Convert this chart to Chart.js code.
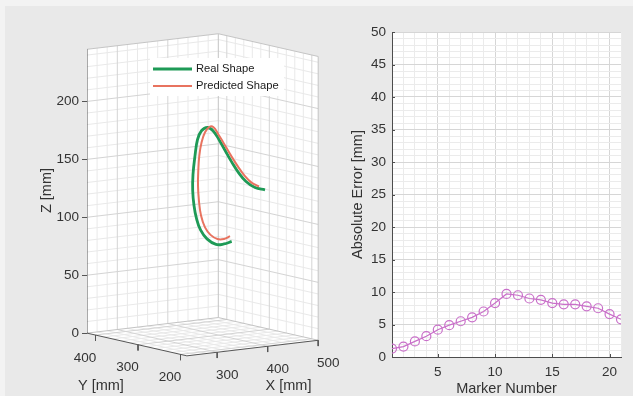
<!DOCTYPE html>
<html>
<head>
<meta charset="utf-8">
<script src="https://cdn.jsdelivr.net/npm/chart.js@4.4.1/dist/chart.umd.min.js"></script>
<style>
  html, body { margin: 0; padding: 0; background: #f3f3f3; overflow: hidden; }
  #page { position: absolute; left: 5px; top: 6px; width: 628px; height: 390px; background: #e9e9e9; }
  #shape { position: absolute; left: 34px; top: 0; }
  #error { position: absolute; left: 340px; top: 0; }
</style>
</head>
<body>
<div id="page"></div>
<canvas id="shape" width="306" height="396"></canvas>
<canvas id="error" width="293" height="396"></canvas>
<script>
// ---- left plot: 3D shape ----
const xLim = [240, 500];
const yLim = [185, 420];
const zLim = [0, 245];
const xTicks = [300, 400, 500];
const yTicks = [200, 300, 400];
const zTicks = [0, 50, 100, 150, 200];

const realX = [425.5, 410.3, 394.5, 376.6, 363.8, 355.8, 350.9, 348.3, 348.9, 352.9, 357.8, 365.7, 377.6, 388.5, 400.4, 412.3, 425.1, 439.0, 453.9, 471.7, 491.5];
const realY = [300, 300, 300, 300, 300, 300, 300, 300, 300, 300, 300, 300, 300, 300, 300, 300, 300, 300, 300, 300, 300];
const realZ = [79.6, 78.2, 78.6, 84.3, 92.7, 103.0, 114.5, 127.5, 141.2, 157.4, 170.9, 178.2, 180.4, 177.1, 168.7, 159.0, 148.5, 138.3, 129.8, 123.7, 120.7];

const predX = [422.2, 410.3, 397.4, 383.6, 372.7, 364.8, 360.8, 358.8, 359.4, 361.4, 365.7, 372.7, 381.6, 389.5, 398.4, 410.3, 424.2, 438.0, 450.9, 464.8, 479.6];
const predY = [300, 300, 300, 300, 300, 300, 300, 300, 300, 300, 300, 300, 300, 300, 300, 300, 300, 300, 300, 300, 300];
const predZ = [84.3, 82.5, 83.1, 87.4, 94.4, 105.1, 117.4, 131.3, 144.2, 157.0, 167.9, 176.6, 180.8, 180.0, 174.0, 164.7, 153.7, 143.5, 135.1, 128.3, 124.2];

// ---- right plot: error per marker ----
const markerNo = [1, 2, 3, 4, 5, 6, 7, 8, 9, 10, 11, 12, 13, 14, 15, 16, 17, 18, 19, 20, 21];
const absError = [1.3, 1.6, 2.4, 3.2, 4.2, 4.9, 5.5, 6.1, 7.0, 8.3, 9.7, 9.5, 9.0, 8.8, 8.3, 8.1, 8.1, 7.8, 7.5, 6.6, 5.8];
const errXTicks = [5, 10, 15, 20];
const errYTicks = [0, 5, 10, 15, 20, 25, 30, 35, 40, 45, 50];

const FONT = "'Liberation Sans', Arial, Helvetica, sans-serif";
const TEXT = '#333333';
const TICK_SIZE = 13.5, TITLE_SIZE = 14.5;
Chart.defaults.font.family = FONT;
Chart.defaults.color = TEXT;

// orthographic view: x scale in screen px, y scale in mm of Z
const PX_PER_MM = 1.162;
function project(x, y, z) {
  const dx = x - xLim[0], dy = yLim[1] - y;
  return {
    x: 0.505 * dx + 0.425 * dy,
    y: z + (0.06 * dx - 0.097 * dy) / PX_PER_MM
  };
}

function steps(a, b, step) {
  const out = [];
  for (let t = Math.ceil(a / step) * step; t <= b + 1e-9; t += step) out.push(t);
  return out;
}

function segments(list) {
  const pts = [];
  list.forEach(([p, q]) => {
    pts.push(project(...p), project(...q), { x: null, y: null });
  });
  return pts;
}

function gridLines(xs, ys, zs) {
  const [x0, x1] = xLim, [y0, y1] = yLim, [z0, z1] = zLim;
  const s = [];
  xs.forEach(x => { s.push([[x, y1, z0], [x, y1, z1]]); s.push([[x, y0, z0], [x, y1, z0]]); });
  ys.forEach(y => { s.push([[x1, y, z0], [x1, y, z1]]); s.push([[x0, y, z0], [x1, y, z0]]); });
  zs.forEach(z => { s.push([[x0, y1, z], [x1, y1, z]]); s.push([[x1, y0, z], [x1, y1, z]]); });
  return segments(s);
}

const inside = (v, lim, majors) => v > lim[0] && v < lim[1] && !majors.includes(v);
const minorPts = gridLines(
  steps(xLim[0], xLim[1], 20).filter(v => inside(v, xLim, xTicks)),
  steps(yLim[0], yLim[1], 20).filter(v => inside(v, yLim, yTicks)),
  steps(zLim[0], zLim[1], 10).filter(v => inside(v, zLim, zTicks))
);
const majorPts = gridLines(
  xTicks.filter(v => v > xLim[0] && v < xLim[1]),
  yTicks.filter(v => v > yLim[0] && v < yLim[1]),
  zTicks.filter(v => v > zLim[0] && v < zLim[1])
);

const [X0, X1] = xLim, [Y0, Y1] = yLim, [Z0, Z1] = zLim;
const boxPts = segments([
  [[X1, Y1, Z0], [X1, Y1, Z1]],
  [[X1, Y0, Z0], [X1, Y0, Z1]],
  [[X0, Y1, Z1], [X1, Y1, Z1]],
  [[X1, Y1, Z1], [X1, Y0, Z1]],
  [[X1, Y0, Z0], [X1, Y1, Z0]],
  [[X1, Y1, Z0], [X0, Y1, Z0]]
]);
const axisPts = segments([
  [[X0, Y1, Z0], [X0, Y1, Z1]],
  [[X0, Y1, Z0], [X0, Y0, Z0]],
  [[X0, Y0, Z0], [X1, Y0, Z0]]
]);
const tickPts = segments([
  ...yTicks.map(t => [[X0, t, 0], [X0, t, -5]]),
  ...xTicks.map(t => [[t, Y0, 0], [t, Y0, -5]])
]);

const realPts = realX.map((x, i) => project(x, realY[i], realZ[i]));
const predPts = predX.map((x, i) => project(x, predY[i], predZ[i]));

function gridSet(data, color, order) {
  return { data, borderColor: color, borderWidth: 1, showLine: true, spanGaps: false,
           pointRadius: 0, order, label: '' };
}

const AREA_TOP = 10, AREA_BOTTOM = 370, ZERO_Y = 333;

const boxFill = {
  id: 'boxFill',
  beforeDatasetsDraw(chart) {
    const { ctx, scales: { x, y } } = chart;
    const corners = [[X0, Y1, Z0], [X0, Y0, Z0], [X1, Y0, Z0], [X1, Y0, Z1], [X1, Y1, Z1], [X0, Y1, Z1]]
      .map(c => project(...c));
    ctx.save();
    ctx.fillStyle = '#ffffff';
    ctx.beginPath();
    corners.forEach((p, i) => {
      const px = x.getPixelForValue(p.x), py = y.getPixelForValue(p.y);
      if (i === 0) ctx.moveTo(px, py); else ctx.lineTo(px, py);
    });
    ctx.closePath();
    ctx.fill();
    ctx.restore();
  }
};

const floorLabels = {
  id: 'floorLabels',
  afterDraw(chart) {
    const { ctx, scales: { x, y } } = chart;
    const pix = p => ({ x: x.getPixelForValue(p.x), y: y.getPixelForValue(p.y) });
    ctx.save();
    ctx.fillStyle = TEXT;
    ctx.textAlign = 'center';
    ctx.textBaseline = 'middle';
    ctx.font = TICK_SIZE + 'px ' + FONT;
    yTicks.forEach(t => {
      const p = pix(project(X0, t, 0));
      ctx.fillText(String(t), p.x - 10.5, p.y + 23);
    });
    xTicks.forEach(t => {
      const p = pix(project(t, Y0, 0));
      ctx.fillText(String(t), p.x + 10, p.y + 23);
    });
    ctx.font = TITLE_SIZE + 'px ' + FONT;
    const ym = pix(project(X0, (Y0 + Y1) / 2, 0));
    ctx.fillText('Y [mm]', ym.x - 36, ym.y + 41.5);
    const xm = pix(project((X0 + X1) / 2, Y0, 0));
    ctx.fillText('X [mm]', xm.x + 36, xm.y + 38);
    ctx.restore();
  }
};

const shapeLegend = {
  id: 'shapeLegend',
  afterDatasetsDraw(chart) {
    const { ctx, chartArea } = chart;
    const left = chartArea.left + 63, top = 58;
    ctx.save();
    ctx.fillStyle = '#ffffff';
    ctx.fillRect(left, top, 134, 38);
    ctx.font = '11.2px ' + FONT;
    ctx.textBaseline = 'middle';
    const items = chart.data.datasets.filter(d => d.label);
    items.forEach((d, i) => {
      const cy = top + 11 + i * 17;
      ctx.strokeStyle = d.borderColor;
      ctx.lineWidth = d.borderWidth;
      ctx.beginPath();
      ctx.moveTo(left + 3, cy);
      ctx.lineTo(left + 42, cy);
      ctx.stroke();
      ctx.fillStyle = '#1a1a1a';
      ctx.fillText(d.label, left + 46, cy);
    });
    ctx.restore();
  }
};

new Chart(document.getElementById('shape'), {
  type: 'scatter',
  data: {
    datasets: [
      gridSet(minorPts, '#e9e9e9', 7),
      gridSet(majorPts, '#d4d4d4', 6),
      gridSet(boxPts, '#c4c4c4', 5),
      gridSet(axisPts, '#555555', 4),
      gridSet(tickPts, '#555555', 3),
      { label: 'Real Shape', data: realPts, showLine: true, borderColor: '#1e9a56', borderWidth: 2.8,
        pointRadius: 0, tension: 0.4, order: 2 },
      { label: 'Predicted Shape', data: predPts, showLine: true, borderColor: '#e8735f', borderWidth: 2,
        pointRadius: 0, tension: 0.4, order: 1 }
    ]
  },
  options: {
    responsive: false,
    animation: false,
    events: [],
    layout: { padding: { left: 0, right: 0, top: AREA_TOP, bottom: 396 - AREA_BOTTOM } },
    plugins: { legend: { display: false }, tooltip: { enabled: false } },
    scales: {
      x: { type: 'linear', display: false, min: 0, max: 253 },
      y: {
        type: 'linear',
        min: (ZERO_Y - AREA_BOTTOM) / PX_PER_MM,
        max: (ZERO_Y - AREA_TOP) / PX_PER_MM,
        afterFit: s => { s.width = 53; },
        afterBuildTicks: s => { s.ticks = zTicks.map(v => ({ value: v })); },
        grid: { drawOnChartArea: false, drawTicks: true, tickLength: 5, color: '#555555' },
        border: { display: false },
        ticks: { padding: 3, color: TEXT, font: { size: TICK_SIZE } },
        title: { display: true, text: 'Z [mm]', color: TEXT, font: { size: TITLE_SIZE }, padding: { top: 4, bottom: 4 } }
      }
    }
  },
  plugins: [boxFill, floorLabels, shapeLegend]
});

// ---- right chart ----
const areaFill = {
  id: 'areaFill',
  beforeDraw(chart) {
    const { ctx, chartArea: a } = chart;
    ctx.save();
    ctx.fillStyle = '#ffffff';
    ctx.fillRect(a.left, a.top, a.right - a.left, a.bottom - a.top);
    ctx.restore();
  },
  afterDatasetsDraw(chart) {
    // inward tick marks, as in the original axes
    const { ctx, chartArea: a, scales: { x, y } } = chart;
    ctx.save();
    ctx.strokeStyle = '#4d4d4d';
    ctx.lineWidth = 1;
    ctx.beginPath();
    errXTicks.forEach(t => {
      const px = Math.round(x.getPixelForValue(t)) + 0.5;
      ctx.moveTo(px, a.bottom); ctx.lineTo(px, a.bottom - 3);
    });
    errYTicks.forEach(t => {
      const py = Math.round(y.getPixelForValue(t)) + 0.5;
      ctx.moveTo(a.left, py); ctx.lineTo(a.left + 3, py);
    });
    ctx.stroke();
    ctx.restore();
  }
};

const gridColor = c => (c.tick && c.tick.value % 5 === 0 ? '#d6d6d6' : '#ebebeb');
const label5 = v => (v % 5 === 0 ? v : '');

new Chart(document.getElementById('error'), {
  type: 'scatter',
  data: {
    datasets: [{
      label: 'Absolute Error',
      data: markerNo.map((m, i) => ({ x: m, y: absError[i] })),
      showLine: true,
      borderColor: '#c96fc9',
      borderWidth: 1.2,
      pointRadius: 4.5,
      pointBorderWidth: 1.2,
      pointBackgroundColor: 'rgba(0,0,0,0)',
      pointBorderColor: '#c96fc9'
    }]
  },
  options: {
    responsive: false,
    animation: false,
    events: [],
    layout: { padding: { left: 5, right: 12, top: 32, bottom: 0 } },
    plugins: { legend: { display: false }, tooltip: { enabled: false } },
    scales: {
      x: {
        type: 'linear', min: 1, max: 21,
        afterBuildTicks: s => { s.ticks = steps(1, 21, 1).map(v => ({ value: v })); },
        afterFit: s => { s.height = 39; },
        ticks: { autoSkip: false, maxRotation: 0, padding: 7, callback: label5, color: TEXT, font: { size: TICK_SIZE } },
        grid: { color: gridColor, drawTicks: false },
        border: { color: '#4d4d4d' },
        title: { display: true, text: 'Marker Number', color: TEXT, font: { size: TITLE_SIZE }, padding: { top: 0, bottom: -2 } }
      },
      y: {
        type: 'linear', min: 0, max: 50,
        afterBuildTicks: s => { s.ticks = steps(0, 50, 1).map(v => ({ value: v })); },
        afterFit: s => { s.width = 47; },
        ticks: { autoSkip: false, padding: 6, callback: label5, color: TEXT, font: { size: TICK_SIZE } },
        grid: { color: gridColor, drawTicks: false },
        border: { color: '#4d4d4d' },
        title: { display: true, text: 'Absolute Error [mm]', color: TEXT, font: { size: TITLE_SIZE }, padding: { top: 4, bottom: 4 } }
      }
    }
  },
  plugins: [areaFill]
});
</script>
</body>
</html>
